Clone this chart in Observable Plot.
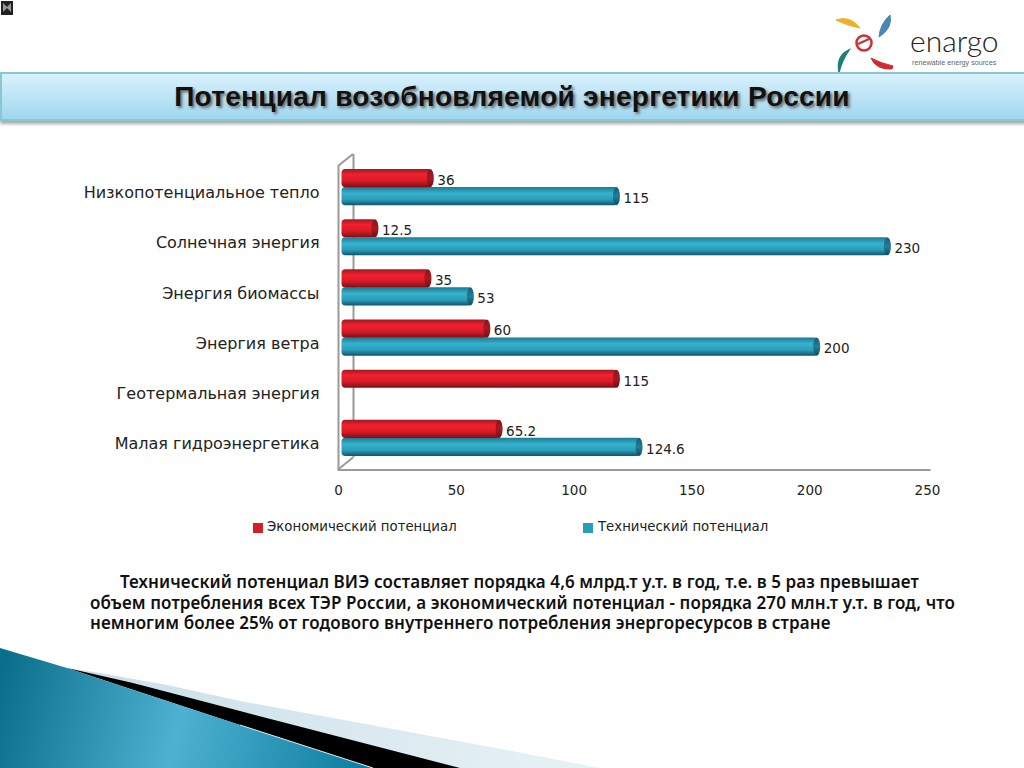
<!DOCTYPE html>
<html lang="ru">
<head>
<meta charset="utf-8">
<title>Потенциал возобновляемой энергетики России</title>
<script src="https://cdn.jsdelivr.net/npm/d3@7"></script>
<script src="https://cdn.jsdelivr.net/npm/@observablehq/plot@0.6"></script>
<style>
html,body{margin:0;padding:0;background:#fff;width:1024px;height:768px;overflow:hidden}
body{position:relative;font-family:"DejaVu Sans",sans-serif;color:#222}
.abs{position:absolute;white-space:nowrap}
#banner{left:0;top:72px;width:1024px;height:45px;border:2px solid #8cc6cf;
 background:linear-gradient(#d9f1fd,#9fd7ef);box-shadow:0 3px 3px #aaa}
#title{left:0;top:78px;width:1024px;text-align:center;font:bold 28px "Liberation Sans",sans-serif;
 color:#111;text-shadow:2px 2px 3px #666;line-height:38px;letter-spacing:.27px}
#chart{left:0;top:130px}
.leg{font-size:13.3px;letter-spacing:0;top:518px;line-height:18px;color:#222}
.sw{width:10px;height:10px}
#caption{left:90px;top:572px;width:880px;white-space:normal;text-indent:30px;
 font:600 17px/20.5px "Noto Sans",sans-serif;letter-spacing:.09px;color:#111}
</style>
</head>
<body>
<svg class="abs" style="left:0;top:0" width="1024" height="768" viewBox="0 0 1024 768">
 <defs>
  <linearGradient id="sw" gradientUnits="userSpaceOnUse" x1="0" y1="680" x2="373" y2="768">
   <stop offset="0" stop-color="#0a6f8b"/><stop offset=".48" stop-color="#4db1d1"/><stop offset="1" stop-color="#0c7b9c"/>
  </linearGradient>
  <linearGradient id="lt" x1="0" y1="0" x2="1" y2="0">
   <stop offset="0" stop-color="#c8dfe8"/><stop offset="1" stop-color="#e8f2f6"/>
  </linearGradient>
 </defs>
 <path d="M67 668 L100 673 L167 685 L240 701 L480 745 L600 768 L300 768Z" fill="url(#lt)"/>
 <path d="M67 668 L133 683 L240 711 L460 768 L373 768 L240 725Z" fill="#000"/>
 <path d="M0 648 L67 668 L133 690 L240 725 L373 768 L0 768Z" fill="url(#sw)"/>
 <path d="M240 725 L373 768" fill="none" stroke="#cfe6ee" stroke-width="1"/>
 <rect x="1" y="1" width="12" height="14" fill="#222"/>
 <path d="M3 3 L7 7 L11 3 L11 12 L7 8 L3 12Z" fill="#999"/>
 <!-- logo -->
 <path d="M836 20 Q850 15 860 28 Q848 26 836 20Z" fill="#eeb02a" stroke="#eeb02a"/>
 <path d="M890 15 Q893 28 879 37 Q880 24 890 15Z" fill="#4a86b4" stroke="#4a86b4"/>
 <path d="M849 50 Q836 56 839 72 Q842 60 849 50Z" fill="#1f7f78" stroke="#1f7f78" stroke-width="1.5"/>
 <path d="M871 58 Q880 63 893 66 L892 69 Q876 70 871 58Z" fill="#d12a2e" stroke="#d12a2e"/>
 <circle cx="864" cy="43" r="7.5" fill="none" stroke="#c8343a" stroke-width="2.6"/>
 <path d="M858 44 L869 39" stroke="#c8343a" stroke-width="2.4"/>
 <text x="910" y="52" font-family="Lato,sans-serif" font-size="30" font-weight="300" fill="#222">enargo</text>
 <text x="912" y="65" font-family="Liberation Sans,sans-serif" font-size="7.2" fill="#666">renewable energy sources</text>
</svg>
<div id="banner" class="abs"></div>
<div id="title" class="abs">Потенциал возобновляемой энергетики России</div>
<div id="chart" class="abs"></div>

<div class="abs sw" style="left:253px;top:523px;background:#d0202c"></div>
<div class="abs leg" style="left:267px">Экономический потенциал</div>
<div class="abs sw" style="left:583px;top:523px;background:#2b9cba"></div>
<div class="abs leg" style="left:598px">Технический потенциал</div>

<div id="caption" class="abs">Технический потенциал ВИЭ составляет порядка 4,6 млрд.т у.т. в год, т.е. в 5 раз превышает объем потребления всех ТЭР России, а экономический потенциал - порядка 270 млн.т у.т. в год, что немногим более 25% от годового внутреннего потребления энергоресурсов в стране</div>

<script>
const categories = ["Низкопотенциальное тепло","Солнечная энергия","Энергия биомассы","Энергия ветра","Геотермальная энергия","Малая гидроэнергетика"];
const economic = [36, 12.5, 35, 60, 115, 65.2];
const technical = [115, 230, 53, 200, null, 124.6];
const xTicks = [0, 50, 100, 150, 200, 250];

const econRows = categories.map((c,i)=>({category:c,value:economic[i]}));
const techRows = categories.map((c,i)=>({category:c,value:technical[i]})).filter(d=>d.value!=null);
const WALL = "#9a9a9a";

function cylinder(rows, top, bottom, body, cap){
  return [
    Plot.barX(rows,{x1:()=>0,x2:"value",y:"category",fill:body,insetTop:top,insetBottom:bottom,insetLeft:-2.5,insetRight:-3,dx:6,rx:4}),
    Plot.barX(rows,{x1:"value",x2:"value",y:"category",fill:cap,insetTop:top,insetBottom:bottom,insetLeft:-3.5,insetRight:-3.5,dx:7.5,rx:3.5,ry:9})
  ];
}

const diagonals = (index,{x},values,{marginTop,height,marginBottom})=>{
  const g = d3.create("svg:g").attr("stroke",WALL).attr("stroke-width",2).attr("fill","none");
  const x0 = x(0), b = height-marginBottom;
  g.append("path").attr("d",`M${x0},${marginTop}L${x0+15},${marginTop-12}`);
  g.append("path").attr("d",`M${x0},${b}L${x0+15},${b-12}`);
  return g.node();
};

const chart = Plot.plot({
  width:1024, height:380,
  marginLeft:338, marginRight:95, marginTop:36, marginBottom:40.5,
  style:{background:"transparent",fontFamily:"'DejaVu Sans',sans-serif",overflow:"visible"},
  x:{domain:[0,250],range:[338,927],label:null},
  y:{domain:categories,range:[32,333],padding:0,round:false,label:null},
  marks:[
    Plot.ruleX([0],{stroke:WALL,strokeWidth:2,dx:15,dy:-12}),
    Plot.ruleX([0],{stroke:WALL,strokeWidth:2}),
    Plot.frame({anchor:"bottom",stroke:WALL,strokeWidth:2}),
    diagonals,
    Plot.axisX({ticks:xTicks,tickSize:0,tickPadding:15,fontSize:13.5,tickFormat:d=>String(d),color:"#222",label:null}),
    Plot.axisY({tickSize:0,tickPadding:19,fontSize:16,dy:5.5,color:"#222",label:null,style:{letterSpacing:"0.35px"}}),
    ...cylinder(techRows,25,7,"url(#blueBar)","url(#blueCap)"),
    ...cylinder(econRows,7,25,"url(#redBar)","url(#redCap)"),
    Plot.text(econRows,{x:"value",y:"category",text:d=>String(d.value),textAnchor:"start",dx:14,dy:-7,fontSize:13.5,fill:"#222"}),
    Plot.text(techRows,{x:"value",y:"category",text:d=>String(d.value),textAnchor:"start",dx:14,dy:11,fontSize:13.5,fill:"#222"})
  ]
});

const defs = d3.select(chart).insert("defs",":first-child");
function grad(id,stops){
  const g = defs.append("linearGradient").attr("id",id).attr("x1",0).attr("y1",0).attr("x2",0).attr("y2",1);
  stops.forEach(([o,c])=>g.append("stop").attr("offset",o).attr("stop-color",c));
}
grad("redBar",[[0,"#9c1a22"],[.3,"#f2202e"],[.65,"#d81c28"],[1,"#7c1016"]]);
grad("redCap",[[0,"#8a141c"],[.5,"#a81a22"],[1,"#6e0e14"]]);
grad("blueBar",[[0,"#1c7a92"],[.35,"#36b2ce"],[.7,"#2a9cb9"],[1,"#125468"]]);
grad("blueCap",[[0,"#185f74"],[.5,"#1f7f98"],[1,"#104c5e"]]);
document.getElementById("chart").append(chart);
</script>
</body>
</html>
